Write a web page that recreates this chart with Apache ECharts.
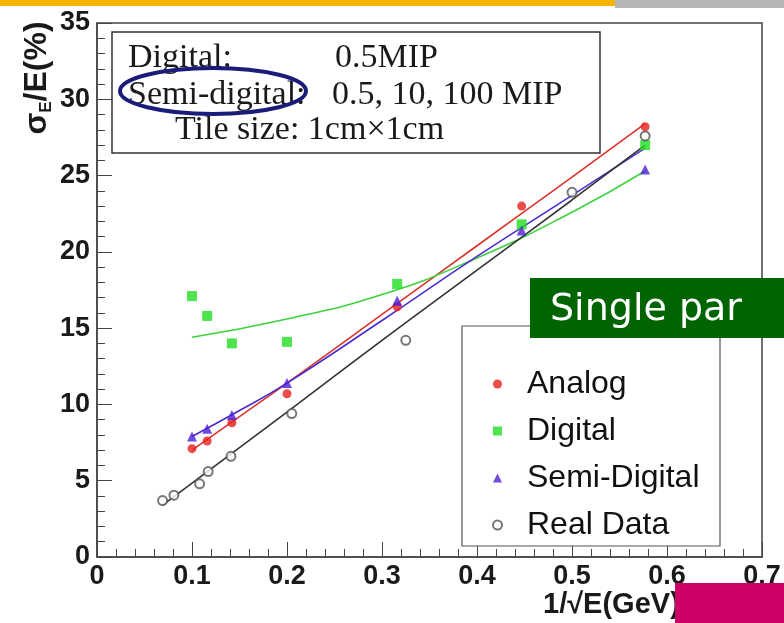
<!DOCTYPE html>
<html>
<head>
<meta charset="utf-8">
<title>Energy resolution</title>
<script src="https://cdn.jsdelivr.net/npm/echarts@6/dist/echarts.min.js"></script>
<style>
    html, body { margin: 0; padding: 0; background: #fff; }
    #resolution_chart { width: 784px; height: 623px; }
</style>
</head>
<body>
<div id="resolution_chart"></div>
<script>

// Data
// ------------------------------

var xTickLabels = ['0', '0.1', '0.2', '0.3', '0.4', '0.5', '0.6', '0.7'];
var yTickLabels = ['0', '5', '10', '15', '20', '25', '30', '35'];

// Measured points [1/sqrt(E), sigma/E %]
var analogPoints = [[0.1, 7.1], [0.116, 7.6], [0.142, 8.8], [0.2, 10.7], [0.316, 16.4], [0.447, 23.0], [0.577, 28.2]];
var digitalPoints = [[0.1, 17.1], [0.116, 15.8], [0.142, 14.0], [0.2, 14.1], [0.316, 17.9], [0.447, 21.8], [0.577, 27.0]];
var semiDigitalPoints = [[0.1, 7.9], [0.116, 8.4], [0.142, 9.3], [0.2, 11.4], [0.316, 16.8], [0.447, 21.4], [0.577, 25.4]];
var realDataPoints = [[0.069, 3.7], [0.081, 4.05], [0.108, 4.8], [0.117, 5.6], [0.141, 6.6], [0.205, 9.4], [0.325, 14.2], [0.5, 23.9], [0.577, 27.6]];

// Fit curves
var analogFit = [[0.1, 7.0], [0.15, 9.2], [0.2, 11.4], [0.3, 15.9], [0.4, 20.4], [0.5, 24.9], [0.577, 28.4]];
var digitalFit = [[0.1, 14.4], [0.2, 15.6], [0.3, 17.2], [0.4, 19.6], [0.5, 22.6], [0.577, 25.3]];
var semiDigitalFit = [[0.1, 7.9], [0.15, 9.6], [0.2, 11.4], [0.3, 15.5], [0.4, 19.7], [0.5, 23.7], [0.577, 26.8]];
var realDataFit = [[0.069, 3.4], [0.2, 9.5], [0.3, 14.2], [0.4, 18.8], [0.5, 23.4], [0.577, 27.0]];


// Setup chart
// ------------------------------

var chartElement = document.getElementById('resolution_chart');
var resolutionChart = echarts.init(chartElement, null, { renderer: 'canvas' });

var labelFont = {
    fontFamily: 'Liberation Sans, Arial, sans-serif',
    fontWeight: 'bold',
    fontSize: 27,
    color: '#1a1a1a'
};

var boxFont = '34px "Liberation Serif", serif';

function fitLine(name, data, color) {
    return {
        name: name,
        type: 'line',
        data: data,
        smooth: true,
        showSymbol: false,
        silent: true,
        z: 3,
        lineStyle: { color: color, width: 1.6 }
    };
}

resolutionChart.setOption({

    animation: false,
    backgroundColor: '#fff',

    // Setup grid
    grid: {
        left: 97,
        right: 22,
        top: 23,
        bottom: 66,
        show: true,
        borderColor: '#444',
        borderWidth: 1.5,
        backgroundColor: 'transparent'
    },

    // Legend (frame drawn below as graphic)
    legend: {
        orient: 'vertical',
        left: 487,
        top: 363,
        itemWidth: 9,
        itemHeight: 9,
        itemGap: 15,
        selectedMode: false,
        textStyle: {
            fontFamily: 'Liberation Sans, Arial, sans-serif',
            fontSize: 32,
            lineHeight: 32,
            color: '#111',
            padding: [0, 0, 0, 20]
        },
        data: [
            { name: 'Analog', icon: 'circle' },
            { name: 'Digital', icon: 'rect' },
            { name: 'Semi-Digital', icon: 'triangle' },
            { name: 'Real Data', icon: 'emptyCircle' }
        ]
    },

    // Horizontal axis
    xAxis: {
        type: 'value',
        min: 0,
        max: 0.7,
        interval: 0.1,
        axisLine: { show: true, lineStyle: { color: '#444', width: 1.5 } },
        axisTick: { show: true, inside: true, length: 15, lineStyle: { color: '#444' } },
        minorTick: { show: true, splitNumber: 5, length: 8, lineStyle: { color: '#444' } },
        splitLine: { show: false },
        axisLabel: Object.assign({
            margin: 6,
            showMinLabel: true,
            showMaxLabel: true,
            formatter: function(v) { return xTickLabels[Math.round(v * 10)]; }
        }, labelFont)
    },

    // Vertical axis
    yAxis: {
        type: 'value',
        min: 0,
        max: 35,
        interval: 5,
        axisLine: { show: true, lineStyle: { color: '#444', width: 1.5 } },
        axisTick: { show: true, inside: true, length: 15, lineStyle: { color: '#444' } },
        minorTick: { show: true, splitNumber: 5, length: 8, lineStyle: { color: '#444' } },
        splitLine: { show: false },
        axisLabel: Object.assign({
            margin: 7,
            showMinLabel: true,
            showMaxLabel: true,
            formatter: function(v) { return yTickLabels[Math.round(v / 5)]; }
        }, labelFont)
    },

    // Add series
    series: [
        fitLine('Analog fit', analogFit, '#d9332b'),
        fitLine('Digital fit', digitalFit, '#3fd23f'),
        fitLine('Semi-Digital fit', semiDigitalFit, '#4a2ed0'),
        fitLine('Real Data fit', realDataFit, '#333'),
        {
            name: 'Analog',
            type: 'scatter',
            symbol: 'circle',
            symbolSize: 9,
            z: 5,
            itemStyle: { color: '#e8211d' },
            data: analogPoints
        },
        {
            name: 'Digital',
            type: 'scatter',
            symbol: 'rect',
            symbolSize: 10,
            z: 5,
            itemStyle: { color: '#22dd22' },
            data: digitalPoints
        },
        {
            name: 'Semi-Digital',
            type: 'scatter',
            symbol: 'triangle',
            symbolSize: 10,
            z: 5,
            itemStyle: { color: '#4b1fd6' },
            data: semiDigitalPoints
        },
        {
            name: 'Real Data',
            type: 'scatter',
            symbol: 'emptyCircle',
            symbolSize: 9,
            z: 5,
            itemStyle: { color: '#555', borderColor: '#555', borderWidth: 1.2 },
            data: realDataPoints
        }
    ],

    // Slide decorations, text box and axis titles
    graphic: [
        { type: 'rect', z: 20, shape: { x: 0, y: 0, width: 615, height: 6 }, style: { fill: '#f6b400' } },
        { type: 'rect', z: 20, shape: { x: 615, y: 0, width: 169, height: 8 }, style: { fill: '#b5b5b5' } },

        // Info box
        { type: 'rect', z: 10, shape: { x: 112, y: 32, width: 488, height: 121 }, style: { fill: '#fff', stroke: '#333', lineWidth: 1.5 } },
        { type: 'text', z: 11, x: 128, y: 58, style: { text: 'Digital:', fill: '#1a1a1a', font: boxFont, verticalAlign: 'middle' } },
        { type: 'text', z: 11, x: 335, y: 58, style: { text: '0.5MIP', fill: '#1a1a1a', font: boxFont, verticalAlign: 'middle' } },
        { type: 'text', z: 11, x: 128, y: 95, style: { text: 'Semi-digital:', fill: '#1a1a1a', font: boxFont, verticalAlign: 'middle' } },
        { type: 'text', z: 11, x: 332, y: 95, style: { text: '0.5, 10, 100 MIP', fill: '#1a1a1a', font: boxFont, verticalAlign: 'middle' } },
        { type: 'text', z: 11, x: 175, y: 130, style: { text: 'Tile size: 1cm\u00d71cm', fill: '#1a1a1a', font: boxFont, verticalAlign: 'middle' } },
        { type: 'ellipse', z: 12, shape: { cx: 213, cy: 91, rx: 93, ry: 23 }, style: { fill: 'none', stroke: '#1b1b7c', lineWidth: 4 } },

        // Legend frame
        { type: 'rect', z: 1, shape: { x: 462, y: 326, width: 258, height: 220 }, style: { fill: '#fff', stroke: '#555', lineWidth: 1.2 } },

        // Green banner
        { type: 'rect', z: 30, shape: { x: 530, y: 278, width: 254, height: 60 }, style: { fill: '#006400' } },
        { type: 'text', z: 31, x: 550, y: 310, style: { text: 'Single par', fill: '#fff', font: '38px "DejaVu Sans", Verdana, sans-serif', verticalAlign: 'middle' } },

        // Axis titles
        { type: 'text', z: 10, x: 543, y: 605, style: { text: '1/\u221aE(GeV)', fill: '#1a1a1a', font: 'bold 29px "Liberation Sans", Arial, sans-serif', verticalAlign: 'middle' } },
        { type: 'rect', z: 30, shape: { x: 675, y: 583, width: 109, height: 40 }, style: { fill: '#cc0066' } },
        {
            type: 'text', z: 10, x: 37, y: 78, rotation: Math.PI / 2,
            style: {
                text: '{a|\u03c3}{s|E}{a|/E(%)}',
                align: 'center',
                verticalAlign: 'middle',
                fill: '#1a1a1a',
                rich: {
                    a: { fontFamily: 'Liberation Sans, Arial, sans-serif', fontWeight: 'bold', fontSize: 32, fill: '#1a1a1a' },
                    s: { fontFamily: 'Liberation Sans, Arial, sans-serif', fontWeight: 'bold', fontSize: 17, fill: '#1a1a1a', padding: [18, 0, 0, 0] }
                }
            }
        }
    ]
});


// Resize chart
// ------------------------------

window.addEventListener('resize', function() {
    resolutionChart.resize();
});

</script>
</body>
</html>
